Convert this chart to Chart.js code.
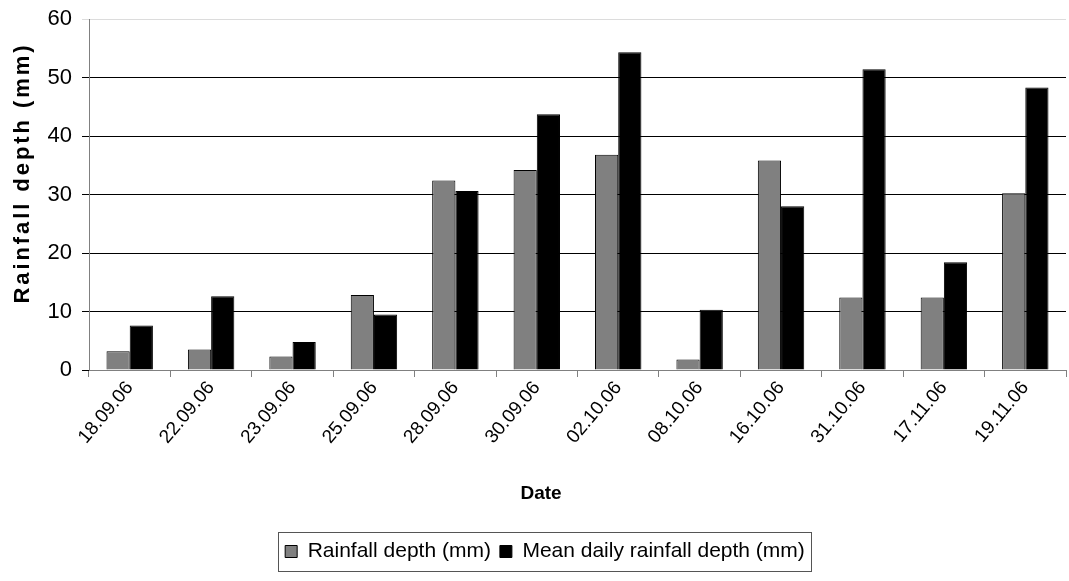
<!DOCTYPE html>
<html>
<head>
<meta charset="utf-8">
<script src="https://cdn.jsdelivr.net/npm/chart.js@4/dist/chart.umd.min.js"></script>
<style>
  html, body { margin: 0; padding: 0; background: #fff; }
  #wrap { width: 1069px; height: 581px; }
</style>
</head>
<body>
<div id="wrap"><canvas id="chart" width="1069" height="581"></canvas></div>
<script>
// values
const categories = ['18.09.06', '22.09.06', '23.09.06', '25.09.06', '28.09.06', '30.09.06',
                    '02.10.06', '08.10.06', '16.10.06', '31.10.06', '17.11.06', '19.11.06'];
const rainfallDepth = [3.2, 3.5, 2.3, 12.8, 32.4, 34.2, 36.8, 1.8, 35.8, 12.4, 12.4, 30.2];
const meanDailyDepth = [7.6, 12.6, 4.8, 9.5, 30.6, 43.7, 54.3, 10.3, 28.0, 51.4, 18.4, 48.3];
const yTicks = [0, 10, 20, 30, 40, 50, 60];
const yTitleText = 'Rainfall depth (mm)';
const xTitleText = 'Date';

const FONT = "'Liberation Sans', Arial, sans-serif";

// draws the thin frame round the legend, like the original
const legendFrame = {
  id: 'legendFrame',
  afterDraw(chart) {
    const boxes = chart.legend.legendHitBoxes;
    if (!boxes || !boxes.length) return;
    const left = Math.min(...boxes.map(b => b.left)) - 7;
    const right = Math.max(...boxes.map(b => b.left + b.width)) + 6;
    const top = Math.min(...boxes.map(b => b.top)) - 9;
    const bottom = Math.max(...boxes.map(b => b.top + b.height)) + 9;
    const ctx = chart.ctx;
    ctx.save();
    ctx.strokeStyle = '#555';
    ctx.lineWidth = 1;
    ctx.strokeRect(Math.round(left) + 0.5, Math.round(top) + 0.5,
                   Math.round(right - left), Math.round(bottom - top));
    ctx.restore();
  }
};

// axis titles: in the original the y title is spread out and "Date" sits left of the plot centre
const axisTitles = {
  id: 'axisTitles',
  afterDraw(chart) {
    const ctx = chart.ctx;
    ctx.save();
    ctx.fillStyle = '#000';
    ctx.textAlign = 'center';
    ctx.textBaseline = 'middle';

    ctx.font = 'bold 19px ' + FONT;
    ctx.fillText(xTitleText, 541, 494);

    ctx.font = 'bold 22px ' + FONT;
    const plain = ctx.measureText(yTitleText).width;
    const spacing = Math.max(0, (258 - plain) / (yTitleText.length - 1));
    ctx.letterSpacing = spacing.toFixed(2) + 'px';
    ctx.translate(23, 176 - spacing / 2);
    ctx.rotate(-Math.PI / 2);
    ctx.fillText(yTitleText, spacing / 2, 0);
    ctx.restore();
  }
};

new Chart(document.getElementById('chart'), {
  type: 'bar',
  data: {
    labels: categories,
    datasets: [
      {
        label: 'Rainfall depth (mm)',
        data: rainfallDepth,
        backgroundColor: '#808080',
        borderColor: '#000',
        borderWidth: 1
      },
      {
        label: 'Mean daily rainfall depth (mm)',
        data: meanDailyDepth,
        backgroundColor: '#000',
        borderColor: '#000',
        borderWidth: 1
      }
    ]
  },
  options: {
    responsive: false,
    animation: false,
    devicePixelRatio: 1,
    // left padding pushes the legend to the right like the original, y axis width makes up for it
    layout: { padding: { top: 19, right: 3, bottom: 9, left: 24 } },
    datasets: {
      bar: { categoryPercentage: 0.57, barPercentage: 1.0 }
    },
    plugins: {
      tooltip: { enabled: false },
      legend: {
        position: 'bottom',
        labels: {
          color: '#000',
          font: { family: FONT, size: 21 },
          boxWidth: 12,
          boxHeight: 12,
          padding: 9
        }
      }
    },
    scales: {
      x: {
        grid: {
          offset: true,
          drawOnChartArea: false,
          tickLength: 7,
          color: '#808080'
        },
        border: { color: '#808080' },
        ticks: {
          color: '#000',
          font: { family: FONT, size: 19 },
          minRotation: 50,
          maxRotation: 50,
          padding: 0
        },
        title: { display: false },
        afterFit(scale) { scale.height = 162; }
      },
      y: {
        min: 0,
        max: 60,
        afterBuildTicks(scale) { scale.ticks = yTicks.map(v => ({ value: v })); },
        grid: {
          tickLength: 7,
          color: ctx => ctx.tick && ctx.tick.value === 60 ? '#dcdcdc' : '#000'
        },
        border: { color: '#808080' },
        ticks: {
          color: '#000',
          font: { family: FONT, size: 22 },
          padding: 10
        },
        title: { display: false },
        afterFit(scale) {
          scale.width = 65;
          scale.paddingTop = 0;
          scale.paddingBottom = 0;
        }
      }
    }
  },
  plugins: [legendFrame, axisTitles]
});
</script>
</body>
</html>
